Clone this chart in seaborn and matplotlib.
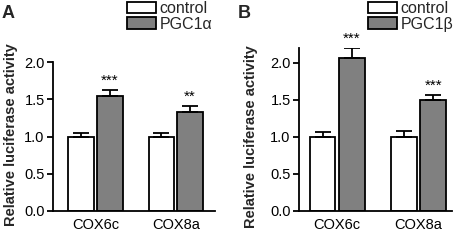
import pandas as pd
import numpy as np
import matplotlib.pyplot as plt
import seaborn as sns

sns.set_theme(style="ticks")
plt.rcParams['font.family'] = ['Liberation Sans', 'DejaVu Sans']

genes = ["COX6c", "COX8a"]

# painel A
ctrl_a = [1.00, 1.00]
ctrl_a_err = [0.05, 0.05]
pgc_a = [1.54, 1.33]
pgc_a_err = [0.09, 0.08]
stars_a = ["***", "**"]

# painel B
ctrl_b = [1.00, 1.00]
ctrl_b_err = [0.06, 0.08]
pgc_b = [2.07, 1.49]
pgc_b_err = [0.13, 0.07]
stars_b = ["***", "***"]

paineis = [
    ("A", "PGC1\u03b1", ctrl_a, ctrl_a_err, pgc_a, pgc_a_err, stars_a, 2.0,
     [53/458, 29/240, 162/458, 149/240], (-0.53, 1.49), (-0.218, 0.51), 128/458, 2/458),
    ("B", "PGC1\u03b2", ctrl_b, ctrl_b_err, pgc_b, pgc_b_err, stars_b, 2.2,
     [299/458, 29.3/240, 153/458, 162.8/240], (-0.47, 1.41), (-0.268, 0.456), 369/458, 238/458),
]

fig = plt.figure(figsize=(4.58, 2.4), dpi=100)

for letra, nome, ctrl, ctrl_err, pgc, pgc_err, stars, ytop, pos, xlim, lab, legx, letx in paineis:
    ax = fig.add_axes(pos)
    df = pd.DataFrame({
        "gene": genes * 2,
        "grupo": ["control"] * 2 + [nome] * 2,
        "valor": ctrl + pgc,
        "erro": ctrl_err + pgc_err,
    })
    sns.barplot(data=df, x="gene", y="valor", hue="grupo", ax=ax,
                palette=["white", "#808080"], edgecolor="black", linewidth=1.3,
                width=0.72, gap=0.12, errorbar=None, legend=True)

    # barras de erro só para cima, a partir das barras desenhadas
    barras = [p for p in ax.patches if p.get_height() > 0]
    barras = sorted(barras, key=lambda p: p.get_x())
    erros = []
    for g in range(len(genes)):
        erros += [ctrl_err[g], pgc_err[g]]
    for p, e in zip(barras, erros):
        xc = p.get_x() + p.get_width() / 2
        h = p.get_height()
        ax.errorbar(xc, h, yerr=[[0], [e]], color="black", capsize=6,
                    elinewidth=1.3, capthick=1.3, zorder=1)
    pgc_barras = barras[1::2]
    for p, e, s in zip(pgc_barras, pgc_err, stars):
        xc = p.get_x() + p.get_width() / 2
        ax.text(xc, p.get_height() + e + 0.03, s, ha="center", va="bottom",
                fontsize=11, color="black")

    ax.set_ylim(0, ytop)
    ax.set_xlim(*xlim)
    ax.set_yticks([0, 0.5, 1.0, 1.5, 2.0])
    ax.set_yticklabels(["0.0", "0.5", "1.0", "1.5", "2.0"])
    ax.tick_params(axis="y", labelsize=10.5, length=4, width=1.3, pad=2, colors="black")
    ax.tick_params(axis="x", labelsize=10.5, length=0, pad=5, colors="black")
    ax.set_xlabel("")
    ax.set_ylabel("Relative luciferase activity", fontsize=10.5, fontweight="bold")
    ax.yaxis.set_label_coords(*lab)
    sns.despine(ax=ax)
    for s in ["left", "bottom"]:
        ax.spines[s].set_linewidth(1.3)
        ax.spines[s].set_color("black")

    handles, labels = ax.get_legend_handles_labels()
    ax.get_legend().remove()
    fig.legend(handles, labels, loc="upper left", bbox_to_anchor=(legx - 0.004, 1.0),
               frameon=False, fontsize=11.5, handlelength=1.8, handleheight=0.7,
               handletextpad=0.25, labelspacing=0.05, borderaxespad=0, borderpad=0.05)

    fig.text(letx, 1 - 5/240, letra, fontsize=13, fontweight="bold", ha="left", va="top")

plt.savefig("out.png", dpi=100)
